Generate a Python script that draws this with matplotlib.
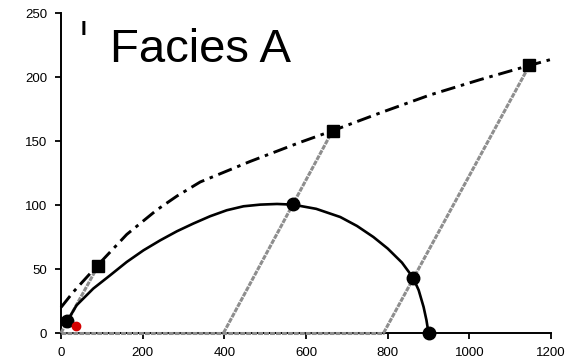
import matplotlib
matplotlib.use("Agg")
import matplotlib.pyplot as plt
from matplotlib.patches import Rectangle

plt.rcParams['font.family'] = ['Liberation Sans', 'DejaVu Sans']

# Yield surface (solid curve), p' vs q
yield_p = [14, 38, 79, 120, 161, 202, 243, 284, 324, 365, 406, 447, 488, 529,
           568, 625, 684, 725, 765, 800, 835, 862, 876, 888, 895, 900]
yield_q = [8.6, 21.6, 34.7, 45, 55.5, 64.6, 72.4, 79.5, 85.5, 91.2, 95.9, 99,
           100.3, 100.8, 100.3, 97, 90.6, 83.6, 75, 66, 55, 43.3, 33.4, 20.3, 10, 0]

# Failure envelope (dash-dot curve)
env_p = [0, 30, 90, 161, 234, 284, 341, 463, 586, 665, 782, 904, 1027, 1147, 1203]
env_q = [20, 32, 53, 77, 96, 107, 118, 134, 149, 158, 172, 186, 198, 209, 214]

# Stress paths: start on the p' axis, end at failure
path_start_p = [0, 398, 790]
path_start_q = [0, 0, 0]
fail_p = [90, 665, 1147]
fail_q = [52, 158, 209]

# Axis path (isotropic loading)
iso_p = [0, 790]
iso_q = [0, 0]

# Yield points
yld_p = [14, 567, 862, 900]
yld_q = [9, 100.5, 43.3, 0]

# Initial state
init_p = [37]
init_q = [5.5]

xticks = [0, 200, 400, 600, 800, 1000, 1200]
yticks = [0, 50, 100, 150, 200, 250]

fig = plt.figure(figsize=(5.77, 3.59), dpi=100)
ax = fig.add_axes([61/577, 26/359, 490/577, 320/359])

gray = '#8e8e8e'
path_style = dict(color=gray, lw=2.2, ls=(0, (1.6, 0.35)), zorder=3, clip_on=False)
for p0, q0, p1, q1 in zip(path_start_p, path_start_q, fail_p, fail_q):
    ax.plot([p0, p1], [q0, q1], **path_style)
ax.plot(iso_p, iso_q, **path_style)

ax.plot(env_p, env_q, color='black', lw=2.1, ls=(0, (5, 2, 1.2, 2)),
        zorder=4, clip_on=False)
ax.plot(yield_p, yield_q, color='black', lw=1.9, zorder=4, clip_on=False,
        solid_joinstyle='round')

ax.plot(fail_p, fail_q, ls='none', marker='s', ms=8, color='black', zorder=5, clip_on=False)
ax.plot(yld_p, yld_q, ls='none', marker='o', ms=9, color='black', zorder=5, clip_on=False)
ax.plot(init_p, init_q, ls='none', marker='o', ms=6, color='#d40000', zorder=5, clip_on=False)

ax.set_xlim(0, 1200)
ax.set_ylim(0, 250)
ax.set_xticks(xticks)
ax.set_yticks(yticks)
for s in ['top', 'right']:
    ax.spines[s].set_visible(False)
for s in ['left', 'bottom']:
    ax.spines[s].set_linewidth(1.4)
ax.tick_params(direction='out', length=4, width=1.3, labelsize=9.5,
               colors='black', pad=6)

fig.text(81/577, 1 - 35/359, 'I', fontsize=15, fontweight='bold',
         ha='left', va='baseline')
fig.add_artist(Rectangle((87/577, 1 - 82/359), (410-87)/577, 82/359,
                         transform=fig.transFigure, facecolor='white',
                         edgecolor='none', zorder=10))
fig.text(110/577, 1 - 62/359, 'Facies A', fontsize=34, ha='left',
         va='baseline', zorder=11)

fig.savefig('out.png', dpi=100)
